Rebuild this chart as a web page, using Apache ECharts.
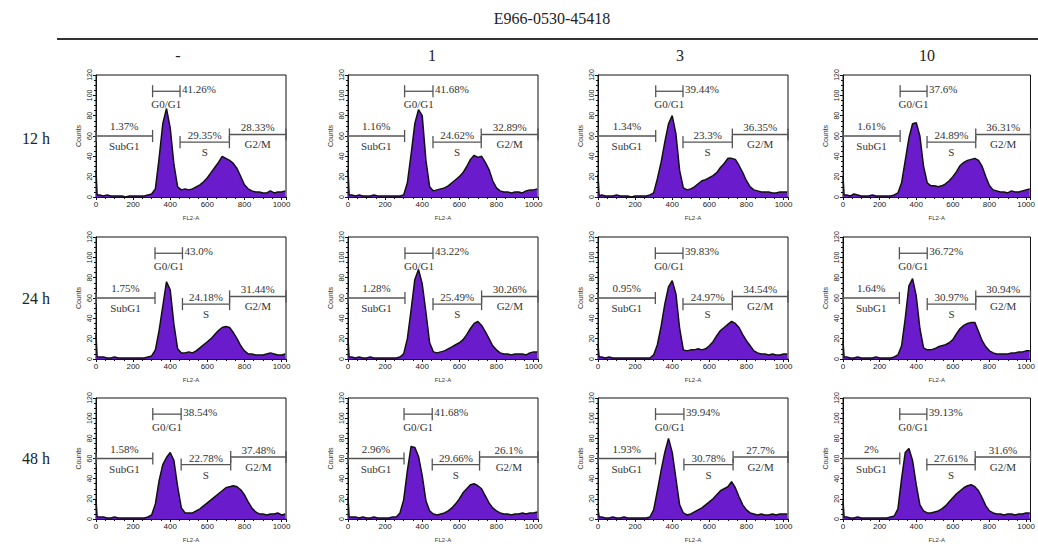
<!DOCTYPE html>
<html>
<head>
<meta charset="utf-8">
<script src="https://cdn.jsdelivr.net/npm/echarts@6/dist/echarts.min.js"></script>
<style>
  html, body { margin: 0; padding: 0; background: #fff; }
  #chart { width: 1038px; height: 544px; }
</style>
</head>
<body>
<div id="chart"></div>
<script>
// FL2-A channel positions shared by every histogram
var bins = [0, 6, 20, 40, 60, 80, 100, 120, 140, 160, 180, 200, 220, 240, 260, 280, 300,
  320, 340, 360, 380, 400, 420, 440, 460, 480, 500, 520, 540, 560, 580, 600, 620, 640, 660,
  680, 700, 720, 740, 760, 780, 800, 820, 840, 860, 880, 900, 920, 940, 960, 980, 1000, 1020];

var rowNames = ['12 h', '24 h', '48 h'];
var colNames = ['-', '1', '3', '10'];
var phases = ['SubG1', 'G0/G1', 'S', 'G2/M'];

// counts
var h12_ctrl = [26, 2, 2, 1, 2, 1, 1, 1, 1, 0, 1, 1, 1, 1, 1, 2, 3, 8, 38, 72, 87, 68, 32, 10, 7, 8, 7,
  8, 10, 12, 15, 19, 24, 29, 34, 40, 38, 36, 33, 28, 20, 12, 8, 6, 5, 5, 4, 4, 6, 4, 5, 5, 6];
var h12_1 = [27, 2, 2, 1, 2, 1, 1, 1, 2, 1, 1, 1, 1, 1, 1, 1, 2, 14, 42, 72, 86, 80, 36, 10, 6, 7, 8,
  9, 11, 14, 17, 20, 24, 30, 37, 41, 39, 40, 34, 27, 16, 9, 6, 5, 5, 4, 5, 5, 4, 6, 7, 7, 8];
var h12_3 = [22, 1, 2, 1, 1, 1, 2, 1, 1, 1, 0, 1, 1, 1, 1, 2, 4, 18, 34, 54, 72, 80, 62, 26, 9, 7, 8,
  10, 13, 16, 17, 19, 21, 24, 29, 33, 38, 38, 37, 31, 24, 16, 10, 7, 6, 5, 5, 5, 4, 4, 5, 5, 5];
var h12_10 = [20, 2, 2, 1, 3, 2, 1, 1, 1, 2, 1, 1, 1, 1, 1, 2, 4, 14, 36, 58, 72, 73, 60, 30, 14, 11, 11,
  10, 11, 13, 16, 20, 25, 31, 34, 36, 37, 38, 36, 30, 20, 11, 7, 6, 5, 5, 4, 6, 5, 5, 6, 7, 8];
var h24_ctrl = [24, 2, 2, 2, 1, 1, 2, 1, 1, 1, 1, 1, 1, 1, 1, 2, 3, 9, 28, 52, 76, 68, 34, 10, 6, 6, 7,
  6, 8, 11, 14, 17, 20, 24, 28, 31, 32, 31, 26, 20, 13, 8, 5, 5, 4, 4, 4, 5, 6, 5, 4, 4, 5];
var h24_1 = [20, 2, 2, 1, 2, 1, 1, 2, 1, 1, 1, 1, 1, 1, 1, 2, 5, 20, 48, 78, 88, 74, 46, 16, 7, 6, 7,
  8, 10, 12, 14, 16, 19, 24, 30, 35, 37, 33, 27, 20, 13, 9, 6, 5, 5, 4, 5, 5, 5, 4, 6, 7, 7];
var h24_3 = [14, 2, 2, 1, 2, 1, 1, 1, 1, 1, 1, 1, 1, 1, 1, 1, 4, 14, 32, 54, 71, 77, 64, 30, 9, 8, 9,
  9, 10, 9, 10, 13, 17, 23, 28, 31, 34, 37, 35, 31, 24, 18, 13, 8, 6, 5, 5, 4, 5, 4, 4, 5, 5];
var h24_10 = [18, 2, 2, 1, 1, 2, 1, 1, 1, 1, 2, 1, 1, 1, 1, 2, 4, 13, 40, 72, 79, 62, 30, 11, 9, 9, 10,
  12, 13, 14, 16, 19, 25, 30, 33, 35, 36, 36, 27, 18, 12, 8, 6, 5, 5, 5, 5, 6, 6, 7, 7, 8, 8];
var h48_ctrl = [19, 2, 2, 2, 1, 1, 2, 1, 1, 1, 1, 1, 1, 1, 1, 2, 4, 15, 38, 54, 61, 66, 58, 32, 11, 6, 6,
  6, 8, 10, 13, 16, 19, 22, 25, 28, 31, 32, 33, 32, 29, 24, 17, 11, 7, 5, 5, 4, 5, 5, 6, 4, 5];
var h48_1 = [22, 2, 2, 2, 1, 2, 1, 1, 2, 1, 1, 1, 1, 2, 2, 6, 19, 48, 72, 71, 62, 43, 18, 8, 5, 4, 5,
  6, 8, 11, 15, 20, 26, 30, 34, 35, 33, 30, 23, 16, 11, 8, 6, 5, 5, 4, 5, 5, 6, 5, 6, 6, 7];
var h48_3 = [10, 2, 2, 1, 1, 2, 1, 1, 2, 1, 1, 1, 1, 1, 1, 2, 9, 28, 48, 66, 80, 66, 40, 14, 6, 4, 5,
  7, 9, 11, 14, 17, 20, 24, 28, 30, 32, 37, 31, 22, 14, 9, 6, 5, 4, 5, 4, 4, 5, 4, 5, 5, 5];
var h48_10 = [18, 2, 2, 1, 1, 2, 1, 1, 1, 1, 1, 1, 1, 1, 2, 3, 10, 40, 66, 70, 58, 34, 14, 8, 6, 6, 7,
  8, 10, 13, 17, 21, 25, 28, 31, 33, 34, 32, 28, 21, 13, 8, 6, 5, 5, 4, 5, 5, 4, 5, 5, 6, 6];

// gate boundaries (SubG1 | G0/G1 | S | G2/M)
var g12_ctrl = [305, 453, 719], g12_1 = [305, 458, 718], g12_3 = [311, 458, 724], g12_10 = [312, 459, 725];
var g24_ctrl = [318, 466, 720], g24_1 = [307, 458, 720], g24_3 = [309, 458, 724], g24_10 = [308, 460, 725];
var g48_ctrl = [306, 459, 726], g48_1 = [302, 454, 709], g48_3 = [310, 463, 728], g48_10 = [310, 458, 722];

// gate percentages
var p12_ctrl = ['1.37%', '41.26%', '29.35%', '28.33%'];
var p12_1 = ['1.16%', '41.68%', '24.62%', '32.89%'];
var p12_3 = ['1.34%', '39.44%', '23.3%', '36.35%'];
var p12_10 = ['1.61%', '37.6%', '24.89%', '36.31%'];
var p24_ctrl = ['1.75%', '43.0%', '24.18%', '31.44%'];
var p24_1 = ['1.28%', '43.22%', '25.49%', '30.26%'];
var p24_3 = ['0.95%', '39.83%', '24.97%', '34.54%'];
var p24_10 = ['1.64%', '36.72%', '30.97%', '30.94%'];
var p48_ctrl = ['1.58%', '38.54%', '22.78%', '37.48%'];
var p48_1 = ['2.96%', '41.68%', '29.66%', '26.1%'];
var p48_3 = ['1.93%', '39.94%', '30.78%', '27.7%'];
var p48_10 = ['2%', '39.13%', '27.61%', '31.6%'];

var hists = [h12_ctrl, h12_1, h12_3, h12_10, h24_ctrl, h24_1, h24_3, h24_10, h48_ctrl, h48_1, h48_3, h48_10];
var gates = [g12_ctrl, g12_1, g12_3, g12_10, g24_ctrl, g24_1, g24_3, g24_10, g48_ctrl, g48_1, g48_3, g48_10];
var pcts = [p12_ctrl, p12_1, p12_3, p12_10, p24_ctrl, p24_1, p24_3, p24_10, p48_ctrl, p48_1, p48_3, p48_10];

var colLeft = [96, 348, 598, 843];
var colWidth = [190, 190, 190, 192];
var rowTop = [75, 237, 398];
var gateLevel = [60, 104, 54, 61.5];
var serif = '"Liberation Serif", "Times New Roman", serif';
var sans = '"Liberation Sans", Arial, sans-serif';

function txt(x, y, s, align) {
    return { type: 'text', style: { text: s, x: x, y: y, fill: '#333', font: '11px ' + serif, align: align, verticalAlign: 'middle' } };
}

function gateRenderer(labels) {
    return function (params, api) {
        var k = params.dataIndex;
        var y = api.value(2);
        var a = api.coord([api.value(0), y]);
        var b = api.coord([api.value(1), y]);
        var t = api.size([0, 6])[1];
        var st = { stroke: '#555', lineWidth: 1.3 };
        var kids = [
            { type: 'line', shape: { x1: a[0], y1: a[1], x2: b[0], y2: b[1] }, style: st },
            { type: 'line', shape: { x1: a[0], y1: a[1] - t, x2: a[0], y2: a[1] + t }, style: st },
            { type: 'line', shape: { x1: b[0], y1: b[1] - t, x2: b[0], y2: b[1] + t }, style: st }
        ];
        var mid = (a[0] + b[0]) / 2;
        if (k === 1) {
            kids.push(txt(b[0] + 2, a[1] - 2, labels[k], 'left'));
            kids.push(txt(mid, a[1] + 13, phases[k], 'center'));
        } else {
            kids.push(txt(mid, a[1] - (k === 0 ? 10 : 7), labels[k], 'center'));
            kids.push(txt(mid, a[1] + 10, phases[k], 'center'));
        }
        return { type: 'group', children: kids };
    };
}

var grids = [], xAxes = [], yAxes = [], series = [];
for (var i = 0; i < 12; i++) {
    var r = Math.floor(i / 4), c = i % 4;
    grids.push({ left: colLeft[c], top: rowTop[r], width: colWidth[c], height: 122,
        show: true, borderColor: '#111', borderWidth: 1 });
    xAxes.push({
        gridIndex: i, type: 'value', min: 0, max: 1024, interval: 200,
        name: 'FL2-A', nameLocation: 'middle', nameGap: 18,
        nameTextStyle: { fontSize: 6, fontFamily: sans, color: '#333' },
        axisLine: { lineStyle: { color: '#111', width: 1 } },
        axisTick: { length: 3, lineStyle: { color: '#111' } },
        minorTick: { show: true, splitNumber: 4, length: 2, lineStyle: { color: '#111' } },
        axisLabel: { fontSize: 8, fontFamily: sans, color: '#222', margin: 3, showMaxLabel: false,
            formatter: function (v) { return String(v); } },
        splitLine: { show: false }
    });
    yAxes.push({
        gridIndex: i, type: 'value', min: 0, max: 120, interval: 20,
        name: 'Counts', nameLocation: 'middle', nameGap: 14, nameRotate: 90,
        nameTextStyle: { fontSize: 7, fontFamily: sans, color: '#333' },
        axisLine: { show: true, lineStyle: { color: '#111', width: 1 } },
        axisTick: { show: true, length: 3, lineStyle: { color: '#111' } },
        minorTick: { show: true, splitNumber: 4, length: 2, lineStyle: { color: '#111' } },
        axisLabel: { fontSize: 7, fontFamily: sans, color: '#222', margin: 3, rotate: 90 },
        splitLine: { show: false }
    });
    var pts = bins.map(function (x, j) { return [x, hists[i][j]]; });
    series.push({
        type: 'line', xAxisIndex: i, yAxisIndex: i, data: pts, symbol: 'none',
        lineStyle: { color: '#111', width: 1.5 },
        areaStyle: { color: '#6a1ccc', opacity: 1 },
        silent: true, animation: false
    });
    var g = gates[i];
    var edges = [0, g[0], g[1], g[2], 1024];
    var gd = [];
    for (var k = 0; k < 4; k++) gd.push([edges[k], edges[k + 1], gateLevel[k]]);
    series.push({
        type: 'custom', xAxisIndex: i, yAxisIndex: i, data: gd, clip: false,
        encode: { x: [0, 1], y: 2 }, renderItem: gateRenderer(pcts[i]),
        silent: true, animation: false
    });
}

var graphics = [
    { type: 'text', x: 552, y: 18, style: { text: 'E966-0530-45418', font: '16px ' + serif, fill: '#222', align: 'center', verticalAlign: 'middle' } },
    { type: 'line', shape: { x1: 57, y1: 39, x2: 1038, y2: 39 }, style: { stroke: '#333', lineWidth: 2 } }
];
var headX = [178, 432, 680, 927];
colNames.forEach(function (s, j) {
    graphics.push({ type: 'text', x: headX[j], y: 55, style: { text: s, font: '16px ' + serif, fill: '#222', align: 'center', verticalAlign: 'middle' } });
});
var rowY = [138, 298, 458];
rowNames.forEach(function (s, j) {
    graphics.push({ type: 'text', x: 22, y: rowY[j], style: { text: s, font: '16px ' + serif, fill: '#222', align: 'left', verticalAlign: 'middle' } });
});

var chart = echarts.init(document.getElementById('chart'), null, { renderer: 'svg' });
chart.setOption({
    animation: false,
    grid: grids,
    xAxis: xAxes,
    yAxis: yAxes,
    series: series,
    graphic: graphics
});
</script>
</body>
</html>
